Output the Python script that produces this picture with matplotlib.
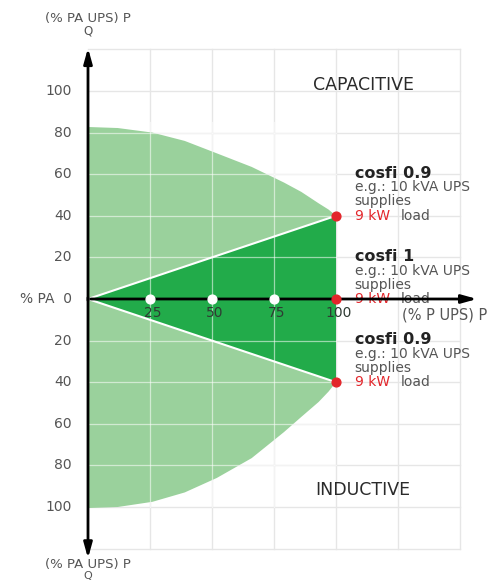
import numpy as np
import matplotlib
matplotlib.use("Agg")
from matplotlib import pyplot as plt

# boundary of the light green area
cap_x = [0, 12, 26, 39, 52, 66, 79, 86, 93, 97, 100]
cap_y = [82.7, 82.2, 80, 76, 70, 63.5, 56, 51.5, 46, 43, 40]
ind_x = [0, 12, 26, 39, 52, 66, 79, 86, 93, 97, 100]
ind_y = [-100.5, -100, -97.5, -93, -86, -76.5, -64, -56.7, -49.5, -44.5, -40]

# cos phi = 1 triangle
tri_x = [0, 100, 100]
tri_y = [0, 40, -40]

x_ticks = [25, 50, 75, 100]
y_ticks = [100, 80, 60, 40, 20, 0, -20, -40, -60, -80, -100]
y_labels = ["100", "80", "60", "40", "20", "% PA  0", "20", "40", "60", "80", "100"]

red_pts_x = [100, 100, 100]
red_pts_y = [40, 0, -40]

notes = [("cosfi 0.9", 40), ("cosfi 1", 0), ("cosfi 0.9", -40)]

LIGHT = "#9ad19c"
DARK = "#22ab4a"
GRAY = "#555555"
RED = "#e3262b"

fig = plt.figure(figsize=(4.96, 5.82), dpi=100)
ax = fig.add_axes([0, 0, 1, 1])
ax.set_xlim(-88 / 2.48, (496 - 88) / 2.48)
ax.set_ylim((299 - 582) / 2.08, 299 / 2.08)
ax.axis("off")

# grid
for gx in [25, 50, 75, 100, 125, 150]:
    ax.plot([gx, gx], [-120, 120], color="#e6e6e6", lw=1, zorder=0)
for gy in [20, 40, 60, 80, 100, 120]:
    ax.plot([0, 150], [gy, gy], color="#e6e6e6", lw=1, zorder=0)
    ax.plot([0, 150], [-gy, -gy], color="#e6e6e6", lw=1, zorder=0)

# light green area
px = cap_x + ind_x[::-1]
py = cap_y + ind_y[::-1]
ax.fill(px, py, color=LIGHT, lw=0, zorder=1)
# dark triangle
ax.fill(tri_x, tri_y, color=DARK, lw=0, zorder=2)
ax.plot([0, 100], [0, 40], color="white", lw=1.5, zorder=3)
ax.plot([0, 100], [0, -40], color="white", lw=1.5, zorder=3)

# grid lines over the green (faint)
for gx in [25, 50, 75]:
    ax.plot([gx, gx], [-100, 85], color="white", lw=0.9, alpha=0.55, zorder=2.5)
for gy in [20, 40, 60, 80]:
    ax.plot([0, 100], [gy, gy], color="white", lw=0.9, alpha=0.55, zorder=2.5)
    ax.plot([0, 100], [-gy, -gy], color="white", lw=0.9, alpha=0.55, zorder=2.5)

# axes with arrows
aprops = dict(arrowstyle="-|>,head_length=0.9,head_width=0.25", color="black", lw=2)
ax.annotate("", xy=(158, 0), xytext=(0, 0), arrowprops=aprops, zorder=4)
ax.annotate("", xy=(0, 122), xytext=(0, -2), arrowprops=aprops, zorder=4)
ax.annotate("", xy=(0, -126), xytext=(0, 2), arrowprops=aprops, zorder=4)

# points
ax.scatter(x_ticks[:3], [0, 0, 0], s=40, color="white", zorder=5)
ax.scatter(red_pts_x, red_pts_y, s=40, color=RED, zorder=5)

# tick labels
for t in x_ticks:
    ax.text(t + 1, -6.5, str(t), ha="center", va="center", fontsize=10, color="#2f3b33", zorder=6)
for t, lab in zip(y_ticks, y_labels):
    ax.text(-6.5, t, lab, ha="right", va="center", fontsize=10, color=GRAY)

# axis titles
ax.text(0, 135, "(% PA UPS) P", ha="center", va="center", fontsize=9.5, color=GRAY)
ax.text(0, 129, "Q", ha="center", va="center", fontsize=8.5, color=GRAY)
ax.text(0, -127.8, "(% PA UPS) P", ha="center", va="center", fontsize=9.5, color=GRAY)
ax.text(0, -133.2, "Q", ha="center", va="center", fontsize=8, color=GRAY)
ax.text(126.5, -7.5, "(% P UPS) P", ha="left", va="center", fontsize=10.5, color=GRAY)

ax.text(111, 103, "CAPACITIVE", ha="center", va="center", fontsize=12.5, color="#2a2a2a")
ax.text(111, -92, "INDUCTIVE", ha="center", va="center", fontsize=12.5, color="#2a2a2a")

# notes
for title, yv in notes:
    y0 = yv + 20.5
    ax.text(107.5, y0, title, ha="left", va="center", fontsize=11.5, fontweight="bold", color="#222222")
    ax.text(107.5, y0 - 6.8, "e.g.: 10 kVA UPS", ha="left", va="center", fontsize=10, color=GRAY)
    ax.text(107.5, y0 - 13.6, "supplies", ha="left", va="center", fontsize=10, color=GRAY)
    ax.text(107.5, y0 - 20.4, "9 kW", ha="left", va="center", fontsize=10, color=RED)
    ax.text(126, y0 - 20.4, "load", ha="left", va="center", fontsize=10, color=GRAY)

fig.savefig("out.png", dpi=100)
